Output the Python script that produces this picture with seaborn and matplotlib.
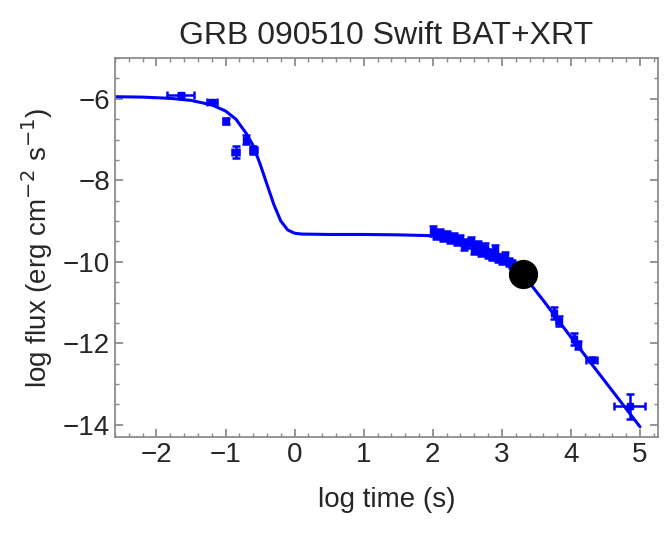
import matplotlib
matplotlib.use("Agg")
import matplotlib.pyplot as plt
import seaborn as sns
import pandas as pd

# fitted model curve
curve_x = [-2.6, -2.2, -1.8, -1.5, -1.2, -1.0, -0.85, -0.7, -0.6, -0.5, -0.4, -0.3, -0.2, -0.1, 0.0, 0.1, 0.5, 1.0, 1.5, 2.0, 2.3, 2.6, 2.9, 3.1, 3.3, 3.6, 4.0, 4.5, 5.0]
curve_y = [-5.95, -5.96, -5.99, -6.04, -6.15, -6.3, -6.5, -6.85, -7.15, -7.6, -8.1, -8.6, -9.0, -9.22, -9.3, -9.32, -9.33, -9.33, -9.34, -9.36, -9.42, -9.55, -9.75, -9.98, -10.3, -10.95, -11.85, -12.95, -14.05]

# BAT + XRT data
obs_x = [-1.65, -1.2, -1.0, -0.85, -0.7, -0.6,
         2.0, 2.05, 2.1, 2.15, 2.2, 2.25, 2.3, 2.35, 2.4, 2.45, 2.5, 2.55, 2.6, 2.65, 2.7, 2.75, 2.8, 2.85, 2.9, 2.95, 3.0, 3.05, 3.1, 3.15,
         3.75, 3.82, 4.05, 4.1, 4.3, 4.85]
obs_y = [-5.9, -6.07, -6.55, -7.3, -7.0, -7.25,
         -9.25, -9.35, -9.3, -9.4, -9.35, -9.45, -9.4, -9.5, -9.45, -9.6, -9.55, -9.5, -9.7, -9.6, -9.75, -9.65, -9.8, -9.85, -9.7, -9.9, -9.95, -9.85, -10.0, -10.05,
         -11.25, -11.45, -11.9, -12.05, -12.4, -13.55]
obs_xerr = [0.2, 0.07, 0.03, 0.05, 0.03, 0.05,
            0.03, 0.03, 0.03, 0.03, 0.03, 0.03, 0.03, 0.03, 0.03, 0.03, 0.03, 0.03, 0.03, 0.03, 0.03, 0.03, 0.03, 0.03, 0.03, 0.03, 0.03, 0.03, 0.03, 0.03,
            0.03, 0.03, 0.03, 0.03, 0.08, 0.22]
obs_yerr = [0.04, 0.05, 0.08, 0.15, 0.1, 0.1,
            0.12, 0.1, 0.1, 0.1, 0.1, 0.1, 0.1, 0.1, 0.1, 0.1, 0.1, 0.1, 0.1, 0.1, 0.1, 0.1, 0.1, 0.1, 0.1, 0.1, 0.1, 0.1, 0.1, 0.1,
            0.15, 0.12, 0.15, 0.1, 0.06, 0.3]

# special point
dot_x = [3.3]
dot_y = [-10.3]

sns.set_theme(style="ticks")
plt.rcParams['font.family'] = ['Liberation Sans', 'DejaVu Sans']

fig = plt.figure(figsize=(6.64, 5.4), dpi=100)
ax = fig.add_axes([115/664, 1 - 437/540, (658 - 115)/664, (437 - 58)/540])

sns.lineplot(x=curve_x, y=curve_y, ax=ax, color="#0000ff", lw=2.2, sort=False)
ax.errorbar(obs_x, obs_y, xerr=obs_xerr, yerr=obs_yerr, fmt='s', ms=4, color="#0000ff",
            ecolor="#0000ff", elinewidth=1.8, capsize=3, capthick=1.8, zorder=3)
sns.scatterplot(x=dot_x, y=dot_y, ax=ax, color="black", s=380, edgecolor="black", zorder=4)

ax.set_xlim(-2.6, 5.26)
ax.set_ylim(-14.3, -5.05)
ax.set_xticks(range(-2, 6))
ax.set_yticks([-14, -12, -10, -8, -6])
ax.set_yticklabels(["\u221214", "\u221212", "\u221210", "\u22128", "\u22126"])
ax.set_xticklabels(["\u22122", "\u22121", "0", "1", "2", "3", "4", "5"])
ax.set_xticks([i / 5 for i in range(-13, 27)], minor=True)
ax.set_yticks([-14 + i * 0.5 for i in range(19)], minor=True)
ax.tick_params(axis='both', which='major', labelsize=20, length=6, color="#888888", direction='in', top=True, right=True)
ax.tick_params(axis='both', which='minor', length=3, color="#888888", direction='in', top=True, right=True)
ax.tick_params(labeltop=False, labelright=False)
for s in ax.spines.values():
    s.set_color("#888888")
ax.set_xlabel("log time (s)", fontsize=20, labelpad=14)
ax.set_ylabel("log flux (erg cm$^{-2}$ s$^{-1}$)", fontsize=20, labelpad=6)
ax.set_title("GRB 090510 Swift BAT+XRT", fontsize=23, pad=10)

fig.savefig("out.png", dpi=100)
